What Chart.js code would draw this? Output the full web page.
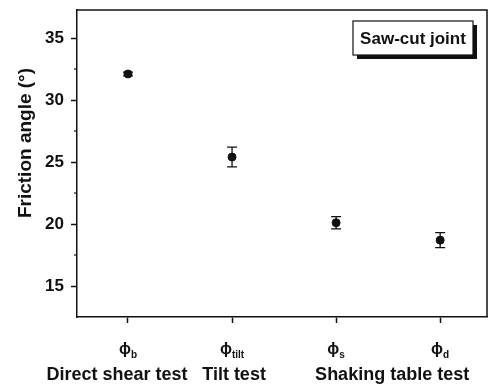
<!DOCTYPE html>
<html>
<head>
<meta charset="utf-8">
<script src="https://cdn.jsdelivr.net/npm/chart.js@4.4.1/dist/chart.umd.min.js"></script>
<style>
html,body{margin:0;padding:0;background:#fff;}
#wrap{width:494px;height:385px;position:relative;}
</style>
</head>
<body>
<div id="wrap"><canvas id="c" width="494" height="385"></canvas></div>
<script>
// ---- data ----
const subscripts = ['b', 'tilt', 's', 'd'];          // ϕ subscripts per category
const frictionAngles = [32.1, 25.4, 20.1, 18.7];     // mean friction angle (°)
const errorHalf = [0.15, 0.8, 0.5, 0.6];             // error bar half-length (°)
const groupLabels = ['Direct shear test', 'Tilt test', 'Shaking table test'];
const groupSpans = [[0, 0], [1, 1], [2, 3]];         // category index span of each group
const yTicks = [15, 20, 25, 30, 35];
const yMinorTicks = [17.5, 22.5, 27.5, 32.5];
const yTitle = 'Friction angle (°)';
const legendText = 'Saw-cut joint';

const FONT = '"Liberation Sans", Arial, sans-serif';
const INK = '#111';

const points = frictionAngles.map((v, i) => ({x: i, y: v}));

const decor = {
  id: 'decor',
  afterDatasetsDraw(chart) {
    const {ctx, chartArea: a, scales: {x, y}} = chart;
    ctx.save();
    ctx.strokeStyle = INK; ctx.fillStyle = INK;
    // error bars
    ctx.lineWidth = 1.3;
    frictionAngles.forEach((v, i) => {
      const px = x.getPixelForValue(i);
      const top = y.getPixelForValue(v + errorHalf[i]);
      const bot = y.getPixelForValue(v - errorHalf[i]);
      ctx.beginPath();
      ctx.moveTo(px, top); ctx.lineTo(px, bot);
      ctx.moveTo(px - 5, top); ctx.lineTo(px + 5, top);
      ctx.moveTo(px - 5, bot); ctx.lineTo(px + 5, bot);
      ctx.stroke();
    });
    // frame (top & right)
    ctx.lineWidth = 1.5;
    ctx.beginPath();
    ctx.moveTo(a.left, a.top); ctx.lineTo(a.right, a.top); ctx.lineTo(a.right, a.bottom);
    ctx.stroke();
    // minor y ticks
    ctx.lineWidth = 1.2;
    yMinorTicks.forEach(t => {
      const py = y.getPixelForValue(t);
      ctx.beginPath(); ctx.moveTo(a.left - 3, py); ctx.lineTo(a.left, py); ctx.stroke();
    });
    // phi labels with subscripts
    subscripts.forEach((s, i) => {
      const px = x.getPixelForValue(i);
      ctx.font = 'bold 16px ' + FONT;
      const w1 = ctx.measureText('ϕ').width;
      ctx.font = 'bold 10px ' + FONT;
      const w2 = ctx.measureText(s).width;
      const start = px - (w1 + w2) / 2;
      ctx.textBaseline = 'alphabetic'; ctx.textAlign = 'left';
      ctx.font = 'bold 16px ' + FONT;
      ctx.fillText('ϕ', start, 354);
      ctx.font = 'bold 10px ' + FONT;
      ctx.fillText(s, start + w1, 358);
    });
    // group labels
    ctx.font = 'bold 18px ' + FONT;
    ctx.textAlign = 'center'; ctx.textBaseline = 'alphabetic';
    const nudge = [-11, 2, 4];
    groupLabels.forEach((g, k) => {
      const [i0, i1] = groupSpans[k];
      const cx = (x.getPixelForValue(i0) + x.getPixelForValue(i1)) / 2 + nudge[k];
      ctx.fillText(g, cx, 380);
    });
    // y title
    ctx.save();
    ctx.translate(31, 143);
    ctx.rotate(-Math.PI / 2);
    ctx.font = 'bold 19px ' + FONT;
    ctx.textAlign = 'center';
    ctx.fillText(yTitle, 0, 0);
    ctx.restore();
    // legend box with shadow
    const bx = 353, by = 21, bw = 120, bh = 34;
    ctx.fillStyle = INK;
    ctx.fillRect(bx + 4, by + 4, bw, bh);
    ctx.fillStyle = '#fff';
    ctx.fillRect(bx, by, bw, bh);
    ctx.lineWidth = 1.2; ctx.strokeStyle = INK;
    ctx.strokeRect(bx, by, bw, bh);
    ctx.fillStyle = INK;
    ctx.font = 'bold 17px ' + FONT;
    ctx.textAlign = 'center'; ctx.textBaseline = 'middle';
    ctx.fillText(legendText, bx + bw / 2, by + bh / 2 + 1);
    ctx.restore();
  }
};

new Chart(document.getElementById('c'), {
  type: 'scatter',
  data: {
    datasets: [{
      data: points,
      backgroundColor: INK,
      borderColor: INK,
      pointRadius: 4,
      pointHoverRadius: 4,
      showLine: false
    }]
  },
  options: {
    responsive: false,
    animation: false,
    events: [],
    layout: {padding: {left: 0, top: 10, right: 7, bottom: 0}},
    plugins: {legend: {display: false}, tooltip: {enabled: false}},
    scales: {
      x: {
        type: 'linear',
        min: -0.49, max: 3.45,
        afterBuildTicks: s => { s.ticks = subscripts.map((_, i) => ({value: i})); },
        afterFit: s => { s.height = 68; s.paddingLeft = 0; s.paddingRight = 0; },
        ticks: {callback: () => '', font: {size: 1}},
        grid: {drawOnChartArea: false, drawTicks: true, tickLength: 6, tickColor: INK, tickWidth: 1.5},
        border: {display: true, color: INK, width: 1.5}
      },
      y: {
        min: 12.5, max: 37.26,
        afterBuildTicks: s => { s.ticks = yTicks.map(v => ({value: v})); },
        afterFit: s => { s.width = 77; s.paddingTop = 0; s.paddingBottom = 0; },
        ticks: {color: INK, font: {family: FONT, size: 17, weight: 'bold'}, padding: 7},
        grid: {drawOnChartArea: false, drawTicks: true, tickLength: 6, tickColor: INK, tickWidth: 1.5},
        border: {display: true, color: INK, width: 1.5}
      }
    }
  },
  plugins: [decor]
});
</script>
</body>
</html>
